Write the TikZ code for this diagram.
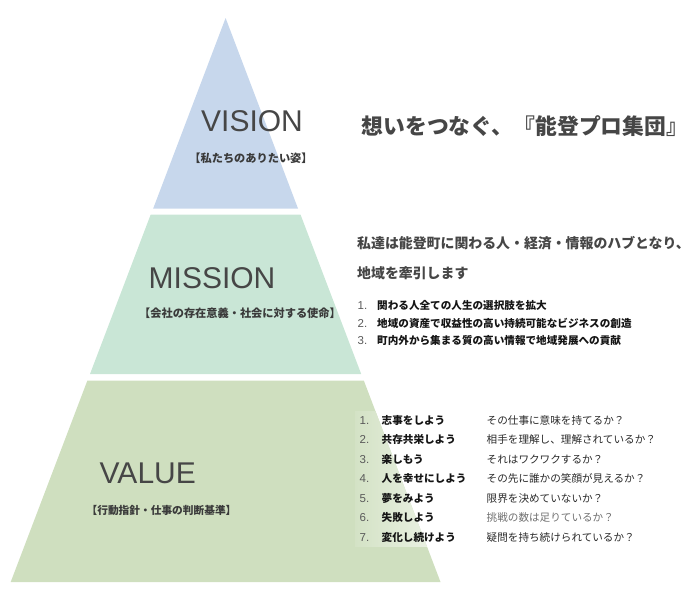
\documentclass[tikz,border=0pt]{standalone}
\usepackage{fontspec}
\setmainfont{Liberation Sans}
\newfontfamily\jp{Noto Sans CJK JP}
\definecolor{visblue}{HTML}{C7D7EC}
\definecolor{misgreen}{HTML}{C9E6D6}
\definecolor{valgreen}{HTML}{CFDFBF}
\definecolor{headgray}{HTML}{464646}
\definecolor{capgray}{HTML}{3A3A3A}
\definecolor{numgray}{HTML}{5A5A5A}
\definecolor{itemblack}{HTML}{151515}
\definecolor{qgray}{HTML}{2A2A2A}
\definecolor{qlight}{HTML}{707070}
\tikzset{
  layhead/.style={font=\fontsize{30}{30}\selectfont, text=headgray, anchor=base west, inner sep=0pt},
  laycapt/.style={font=\jp\bfseries\fontsize{11.2}{12}\selectfont, text=capgray, anchor=base, inner sep=0pt},
  titletext/.style={font=\jp\bfseries\fontsize{21.8}{22}\selectfont, text=headgray, anchor=base west, inner sep=0pt},
  desctext/.style={font=\jp\bfseries\fontsize{13.9}{14}\selectfont, text=headgray, anchor=base west, inner sep=0pt},
  numtext/.style={font=\fontsize{11.5}{12}\selectfont, text=numgray, anchor=base west, inner sep=0pt},
  itemtext/.style={font=\jp\bfseries\fontsize{10.6}{11}\selectfont, text=itemblack, anchor=base west, inner sep=0pt},
  questtext/.style={font=\jp\fontsize{10.6}{11}\selectfont, text=qgray, anchor=base west, inner sep=0pt},
}
\begin{document}
\begin{tikzpicture}[x=1pt,y=-1pt]
\useasboundingbox (0,0) rectangle (694,589);
% pyramid layers
\fill[visblue] (225.6,18) -- (298,208.5) -- (153.2,208.5) -- cycle;
\fill[misgreen] (150.7,214.5) -- (300.5,214.5) -- (361.2,374) -- (90,374) -- cycle;
\fill[valgreen] (87.4,380.5) -- (363.8,380.5) -- (440.5,582) -- (10.7,582) -- cycle;
% faded panel behind the value list
\begin{scope}
\clip (87.4,380.5) -- (363.8,380.5) -- (440.5,582) -- (10.7,582) -- cycle;
\shade[left color=valgreen!90!white, right color=valgreen!35!white] (355,411) rectangle (445,546);
\end{scope}
% VISION
\node[layhead] (vis) at (201,131.5) {VISION};
\node[laycapt] (viscap) at (251,162) {【私たちのありたい姿】};
\node[titletext] (title) at (361.5,134.8) {想いをつなぐ、『能登プロ集団』};
% MISSION
\node[layhead] (mis) at (148.5,288) {MISSION};
\node[laycapt] (miscap) at (240,317.2) {【会社の存在意義・社会に対する使命】};
\node[desctext] (md1) at (357,248) {私達は能登町に関わる人・経済・情報のハブとなり、};
\node[desctext] (md2) at (357,278) {地域を牽引します};
\node[numtext] (mn1) at (357.5,309) {1.};
\node[numtext] (mn2) at (357.5,327) {2.};
\node[numtext] (mn3) at (357.5,344.5) {3.};
\node[itemtext] (mi1) at (377,309) {関わる人全ての人生の選択肢を拡大};
\node[itemtext] (mi2) at (377,327) {地域の資産で収益性の高い持続可能なビジネスの創造};
\node[itemtext] (mi3) at (377,344.5) {町内外から集まる質の高い情報で地域発展への貢献};
% VALUE
\node[layhead] (val) at (99.5,483) {VALUE};
\node[laycapt, font=\jp\bfseries\fontsize{10.7}{11}\selectfont] (valcap) at (161.5,514) {【行動指針・仕事の判断基準】};
\node[numtext] (vn1) at (359.5,424) {1.};
\node[numtext] (vn2) at (359.5,443.5) {2.};
\node[numtext] (vn3) at (359.5,463) {3.};
\node[numtext] (vn4) at (359.5,482.5) {4.};
\node[numtext] (vn5) at (359.5,502) {5.};
\node[numtext] (vn6) at (359.5,521.5) {6.};
\node[numtext] (vn7) at (359.5,541) {7.};
\node[itemtext] (vi1) at (381.5,424) {志事をしよう};
\node[itemtext] (vi2) at (381.5,443.5) {共存共栄しよう};
\node[itemtext] (vi3) at (381.5,463) {楽しもう};
\node[itemtext] (vi4) at (381.5,482.5) {人を幸せにしよう};
\node[itemtext] (vi5) at (381.5,502) {夢をみよう};
\node[itemtext] (vi6) at (381.5,521.5) {失敗しよう};
\node[itemtext] (vi7) at (381.5,541) {変化し続けよう};
\node[questtext] (vq1) at (486.5,424) {その仕事に意味を持てるか？};
\node[questtext] (vq2) at (486.5,443.5) {相手を理解し、理解されているか？};
\node[questtext] (vq3) at (486.5,463) {それはワクワクするか？};
\node[questtext] (vq4) at (486.5,482.5) {その先に誰かの笑顔が見えるか？};
\node[questtext] (vq5) at (486.5,502) {限界を決めていないか？};
\node[questtext, text=qlight] (vq6) at (486.5,521.5) {挑戦の数は足りているか？};
\node[questtext] (vq7) at (486.5,541) {疑問を持ち続けられているか？};
\end{tikzpicture}
\end{document}
